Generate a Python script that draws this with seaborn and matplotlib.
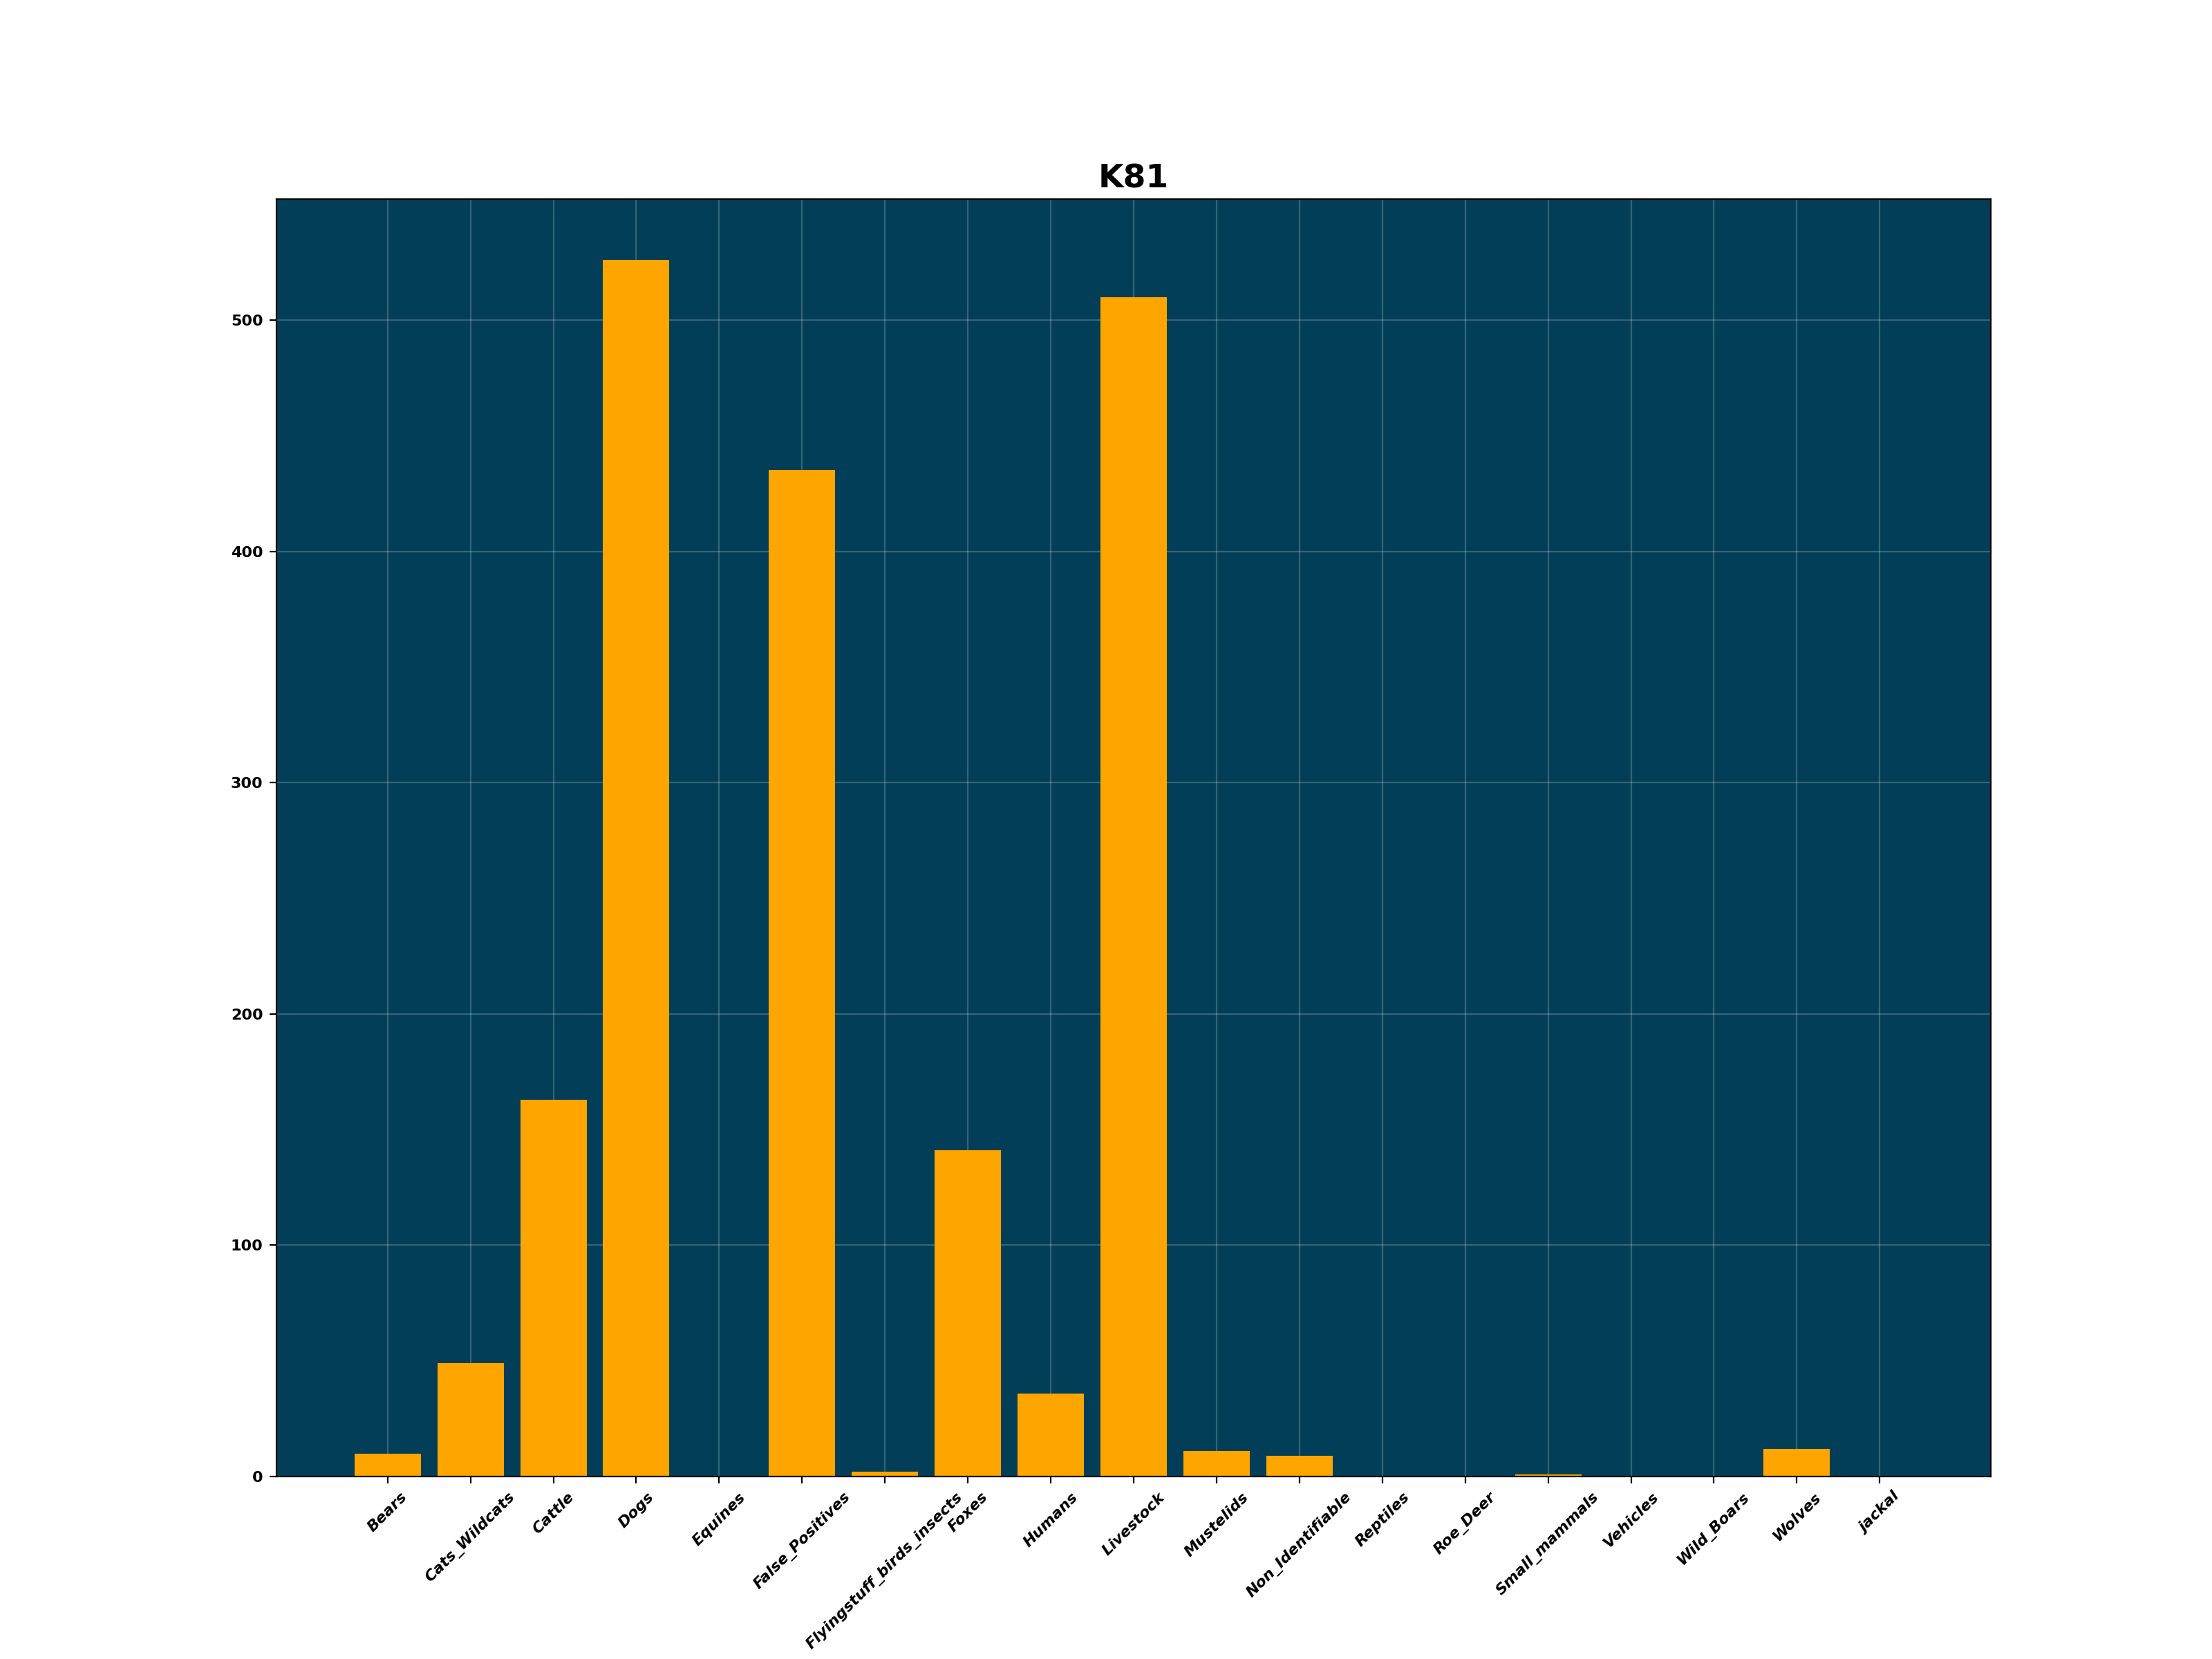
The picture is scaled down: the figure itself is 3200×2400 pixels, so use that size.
import numpy as np
import matplotlib
matplotlib.use('Agg')
import matplotlib.pyplot as plt
import seaborn as sns

# detections per class for camera K81
categories = ['Bears', 'Cats_Wildcats', 'Cattle', 'Dogs', 'Equines',
              'False_Positives', 'Flyingstuff_birds_insects', 'Foxes',
              'Humans', 'Livestock', 'Mustelids', 'Non_Identifiable',
              'Reptiles', 'Roe_Deer', 'Small_mammals', 'Vehicles',
              'Wild_Boars', 'Wolves', 'jackal']
counts = [10, 49, 163, 526, 0, 435, 2, 141, 36, 510, 11, 9, 0, 0, 1, 0, 0, 12, 0]
title = 'K81'

bg_color = '#023e58'
bar_color = '#ffa500'

fig, ax = plt.subplots(figsize=(16, 12), dpi=200)
ax.set_facecolor(bg_color)
ax.set_axisbelow(True)

sns.barplot(x=categories, y=counts, color=bar_color, saturation=1,
            width=0.8, ax=ax)

# seaborn switches off the grid on the category axis, so turn it back on
ax.grid(True, axis='both', color='white', alpha=0.2, linewidth=0.8)

# matplotlib-style auto margins around the bars
lo, hi = -0.4, len(categories) - 1 + 0.4
pad = 0.05 * (hi - lo)
ax.set_xlim(lo - pad, hi + pad)
ax.set_ylim(0, max(counts) * 1.05)

ax.set_xlabel('')
ax.set_ylabel('')
ax.set_title(title, fontsize=17, fontweight='bold')

plt.setp(ax.get_xticklabels(), rotation=45, fontweight='bold',
         fontstyle='italic', fontsize=8)
plt.setp(ax.get_yticklabels(), fontweight='bold', fontsize=8)

fig.savefig('out.png', dpi=200)
